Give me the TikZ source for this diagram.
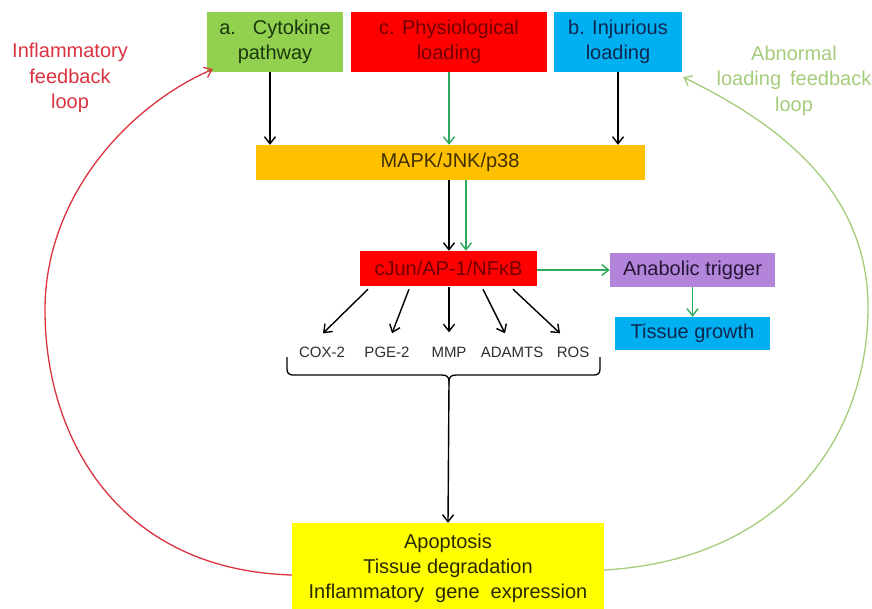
\documentclass[tikz,border=0pt]{standalone}
\usepackage{fontspec}
\setmainfont{Liberation Sans}
\usetikzlibrary{arrows.meta,calc}
\definecolor{fgreen}{HTML}{92D050}
\definecolor{fred}{HTML}{FF0000}
\definecolor{fblue}{HTML}{00B0F0}
\definecolor{forange}{HTML}{FFC000}
\definecolor{fpurple}{HTML}{B284DA}
\definecolor{fyellow}{HTML}{FFFF00}
\definecolor{tgreen}{HTML}{1A380C}
\definecolor{tred}{HTML}{700000}
\definecolor{tblue}{HTML}{0C2850}
\definecolor{torange}{HTML}{403000}
\definecolor{tpurple}{HTML}{261635}
\definecolor{tyellow}{HTML}{2A2A00}
\definecolor{agreen}{HTML}{2EAA5C}
\definecolor{loopred}{HTML}{DA3340}
\definecolor{loopgreen}{HTML}{A5CC7A}
\definecolor{lbltext}{HTML}{2E2E2E}
\begin{document}
\begin{tikzpicture}[x=1pt,y=-1pt,
  box/.style={draw=none, inner sep=0pt, align=center, font=\fontsize{20}{25}\selectfont},
  lbl/.style={inner sep=0pt, text height=11pt, text depth=0pt, font=\fontsize{15}{18}\selectfont, text=lbltext},
  tip/.style={-{Straight Barb[length=7pt,width=11pt]}},
  arr/.style={tip, line width=1.4pt, draw=black},
  garr/.style={tip, line width=1.4pt, draw=agreen},
  looptext/.style={align=center, font=\fontsize{20}{25.5}\selectfont},
]
\useasboundingbox (0,0) rectangle (872,608);

% top boxes
\node[box, fill=fgreen, text=tgreen, minimum width=136pt, minimum height=60pt] (a) at (275,42)
  {a.\hspace{17pt}Cytokine\\pathway};
\node[box, fill=fred, text=tred, minimum width=196pt, minimum height=60pt] (c) at (449,42)
  {c. Physiological\\loading};
\node[box, fill=fblue, text=tblue, minimum width=128pt, minimum height=60pt] (b) at (618,42)
  {b. Injurious\\loading};

% middle boxes
\node[box, fill=forange, text=torange, minimum width=389pt, minimum height=35pt] (mapk) at (450,162.5) {MAPK/JNK/p38};
\node[box, fill=fred, text=tred, minimum width=177pt, minimum height=35pt] (cjun) at (448.5,268.5) {cJun/AP-1/NFκB};
\node[box, fill=fpurple, text=tpurple, minimum width=165pt, minimum height=34pt] (anab) at (692.5,270) {Anabolic trigger};
\node[box, fill=fblue, text=tblue, minimum width=155pt, minimum height=33pt] (tiss) at (692.5,333.5) {Tissue growth};

% bottom box
\node[box, fill=fyellow, text=tyellow, minimum width=312pt, minimum height=90pt] (yel) at (448,568)
  {Apoptosis\\Tissue degradation\\Inflammatory\hspace{11pt}gene\hspace{11pt}expression};

% labels
\node[lbl] (cox) at (322,352) {COX-2};
\node[lbl] (pge) at (387,352) {PGE-2};
\node[lbl] (mmp) at (449,352) {MMP};
\node[lbl] (adamts) at (512,352) {ADAMTS};
\node[lbl] (ros) at (573,352) {ROS};

% loop texts
\node[looptext, text=loopred] (inftext) at (70,78) {Inflammatory\\feedback\\loop};
\node[looptext, text=loopgreen] (abntext) at (794,80.5) {Abnormal\\loading\hspace{9pt}feedback\\loop};

% helper coordinates
\coordinate (xa) at (270,0);
\coordinate (xk) at (449,0);
\coordinate (xg) at (466,0);

% arrows top -> MAPK
\draw[arr] (a.south -| xa) -- (mapk.north -| xa);
\draw[garr] (c.south) -- (c.south |- mapk.north);
\draw[arr] (b.south) -- (b.south |- mapk.north);

% MAPK -> cJun
\draw[arr] (mapk.south -| xk) -- (cjun.north -| xk);
\draw[garr] (mapk.south -| xg) -- (cjun.north -| xg);

% cJun -> anabolic -> tissue
\draw[garr] (cjun.east |- anab.west) -- (anab.west);
\draw[garr] (anab.south) -- (tiss.north);

% cJun -> labels
\draw[arr] ($(cjun.south)+(-80.5,3)$) -- ($(cox.north)+(1,-13)$);
\draw[arr] ($(cjun.south)+(-39.5,3)$) -- ($(pge.north)+(5,-13)$);
\draw[arr] ($(cjun.south)+(0.5,1)$) -- ($(mmp.north)+(0,-14)$);
\draw[arr] ($(cjun.south)+(34.5,3)$) -- ($(adamts.north)+(-7,-13)$);
\draw[arr] ($(cjun.south)+(64.5,3)$) -- ($(ros.north)+(-13,-13)$);

% brace
\coordinate (btip) at (449,382);
\draw[line width=1.3pt] (287,357) -- (287,369) .. controls (287,373) and (289,375) .. (293,375)
  -- (442,375) .. controls (447,375) and (449,377) .. (btip)
  .. controls (449,377) and (451,375) .. (456,375)
  -- (594,375) .. controls (598,375) and (600,373) .. (600,369) -- (600,357);
\draw[arr] (btip) -- (yel.north);

% feedback loops
\draw[tip, line width=1.3pt, draw=loopred] ($(yel.west)+(0,7)$)
  .. controls (120,570) and (45,440) .. (45,310)
  .. controls (45,195) and (130,105) .. ($(a.south west)+(6,-3)$);
\draw[tip, line width=1.3pt, draw=loopgreen] ($(yel.east)+(0,2)$)
  .. controls (780,560) and (868,440) .. (868,307)
  .. controls (868,180) and (760,115) .. ($(b.south east)+(1,5)$);
\end{tikzpicture}
\end{document}
